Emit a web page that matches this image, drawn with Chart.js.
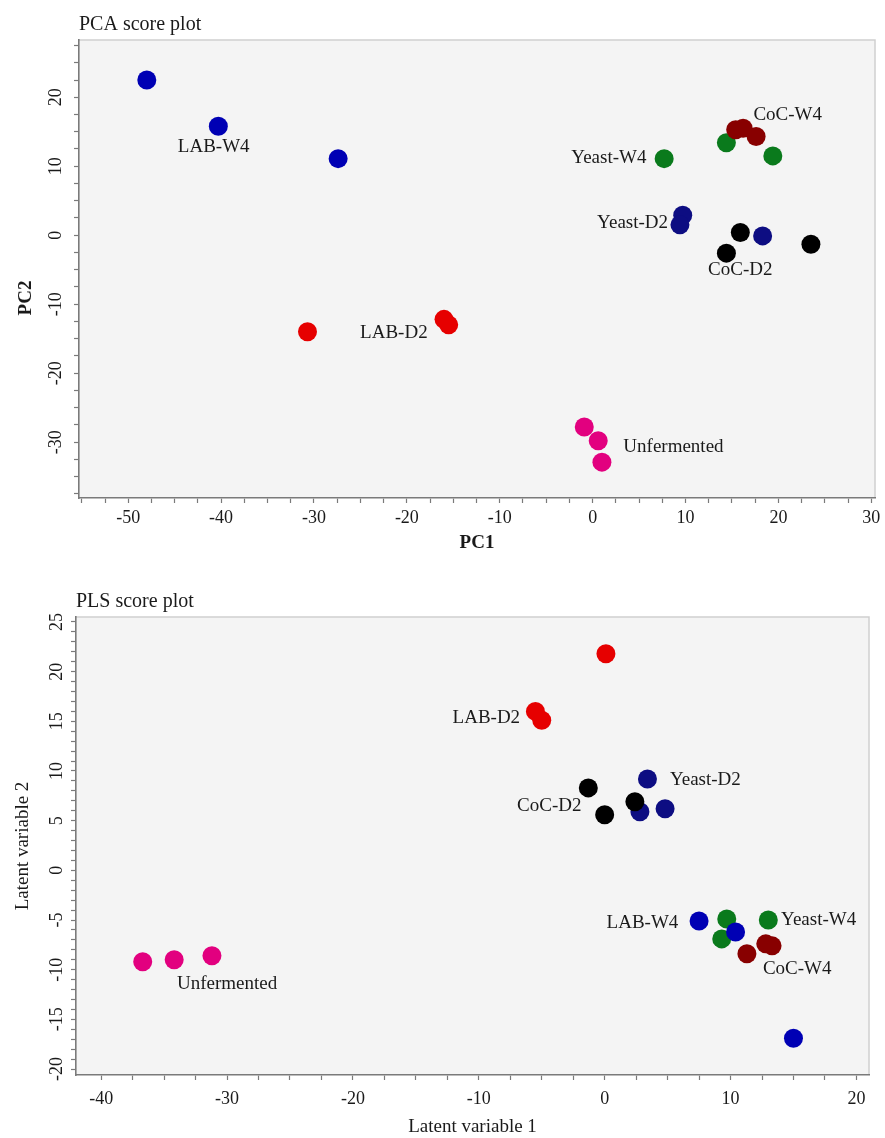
<!DOCTYPE html>
<html>
<head>
<meta charset="utf-8">
<script src="https://cdn.jsdelivr.net/npm/chart.js@4.4.1/dist/chart.umd.min.js"></script>
<style>
  html, body { margin: 0; padding: 0; background: #fff; }
  .wrap { position: absolute; left: 0; width: 885px; height: 560px; }
  #pca-wrap { top: 0; }
  #pls-wrap { top: 578px; }
</style>
</head>
<body>
<div class="wrap" id="pca-wrap"><canvas id="chart-pca" width="885" height="560"></canvas></div>
<div class="wrap" id="pls-wrap"><canvas id="chart-pls" width="885" height="560"></canvas></div>
<script>
// --- PCA scores [PC1, PC2] ---
const pcaLabW4       = [[-48.0, 22.5], [-40.3, 15.8], [-27.4, 11.1]];
const pcaLabD2       = [[-30.7, -14.0], [-16.0, -12.2], [-15.5, -13.0]];
const pcaUnfermented = [[-0.9, -27.8], [0.6, -29.8], [1.0, -32.9]];
const pcaCocW4       = [[15.4, 15.3], [16.2, 15.5], [17.6, 14.3]];
const pcaYeastW4     = [[7.7, 11.1], [14.4, 13.4], [19.4, 11.5]];
const pcaYeastD2     = [[9.7, 2.9], [9.4, 1.5], [18.3, -0.1]];
const pcaCocD2       = [[15.9, 0.4], [14.4, -2.6], [23.5, -1.3]];

// --- PLS scores [LV1, LV2] ---
const plsLabD2       = [[0.1, 21.8], [-5.5, 16.0], [-5.0, 15.1]];
const plsCocD2       = [[-1.3, 8.3], [0.0, 5.6], [2.4, 6.9]];
const plsYeastD2     = [[3.4, 9.2], [2.8, 5.9], [4.8, 6.2]];
const plsUnfermented = [[-36.7, -9.2], [-34.2, -9.0], [-31.2, -8.6]];
const plsCocW4       = [[11.3, -8.4], [12.8, -7.4], [13.3, -7.6]];
const plsLabW4       = [[7.5, -5.1], [10.4, -6.2], [15.0, -16.9]];
const plsYeastW4     = [[9.7, -4.9], [9.3, -6.9], [13.0, -5.0]];

// --- Axis ticks ---
const pcaXTicks = [-50, -40, -30, -20, -10, 0, 10, 20, 30];
const pcaYTicks = [-30, -20, -10, 0, 10, 20];
const plsXTicks = [-40, -30, -20, -10, 0, 10, 20];
const plsYTicks = [-20, -15, -10, -5, 0, 5, 10, 15, 20, 25];

// --- Group names written next to clusters [text, x, y] in data units ---
const pcaGroupLabels = [
  ['LAB-W4', -40.8, 12.75], ['Yeast-W4', 1.75, 11.15], ['CoC-W4', 21.0, 17.4],
  ['Yeast-D2', 4.3, 1.7], ['CoC-D2', 15.9, -5.1], ['LAB-D2', -21.4, -14.2],
  ['Unfermented', 8.7, -30.7]
];
const plsGroupLabels = [
  ['LAB-D2', -9.4, 15.35], ['CoC-D2', -4.4, 6.5], ['Yeast-D2', 8.0, 9.1],
  ['LAB-W4', 3.0, -5.35], ['Yeast-W4', 17.0, -5.05], ['CoC-W4', 15.3, -9.9],
  ['Unfermented', -30.0, -11.4]
];

// --- Colours ---
const COLORS = {
  labW4: '#0000b4',
  labD2: '#e60000',
  unfermented: '#e2007f',
  yeastW4: '#0a7a1c',
  cocW4: '#880000',
  yeastD2: '#0d0d82',
  cocD2: '#000000'
};

const SERIF = '"Liberation Serif", "DejaVu Serif", serif';
const AXIS_GREY = '#7a7a7a';

// --- Helpers ---
function toPoints(pairs) {
  return pairs.map(p => ({ x: p[0], y: p[1] }));
}

function dataset(pairs, color) {
  return {
    data: toPoints(pairs),
    backgroundColor: color,
    borderWidth: 0,
    pointRadius: 9.5,
    pointHoverRadius: 9.5
  };
}

// minor ticks between the labelled ones
function makeAxis(range, majors, minorStep, extra) {
  const axis = {
    type: 'linear',
    min: range[0],
    max: range[1],
    afterBuildTicks: scale => {
      const ticks = [];
      const start = Math.ceil(range[0] / minorStep) * minorStep;
      for (let v = start; v <= range[1] + 1e-9; v += minorStep) {
        ticks.push({ value: +v.toFixed(3) });
      }
      scale.ticks = ticks;
    },
    grid: {
      display: true,
      drawOnChartArea: false,
      drawTicks: true,
      tickLength: 5,
      tickColor: AXIS_GREY,
      tickWidth: 1.2
    },
    border: { display: true, color: AXIS_GREY, width: 1.6 },
    ticks: {
      autoSkip: false,
      color: '#1a1a1a',
      font: { family: SERIF, size: 18 },
      callback: v => (majors.includes(+(+v).toFixed(3)) ? String(v) : '')
    }
  };
  Object.assign(axis.ticks, extra.ticks || {});
  axis.title = extra.title || { display: false };
  axis.afterFit = extra.afterFit;
  return axis;
}

// plot background, light top/right frame, titles and group names
const framePlugin = {
  id: 'frame',
  beforeDraw(chart) {
    const { ctx, chartArea: a } = chart;
    ctx.save();
    ctx.fillStyle = '#f4f4f4';
    ctx.fillRect(a.left, a.top, a.right - a.left, a.bottom - a.top);
    ctx.strokeStyle = '#cfcfcf';
    ctx.lineWidth = 1.5;
    ctx.beginPath();
    ctx.moveTo(a.left, a.top);
    ctx.lineTo(a.right, a.top);
    ctx.lineTo(a.right, a.bottom);
    ctx.stroke();
    ctx.restore();
  },
  afterDatasetsDraw(chart, args, opts) {
    const { ctx, chartArea: a, scales } = chart;
    ctx.save();
    ctx.fillStyle = '#1a1a1a';
    ctx.textAlign = 'left';
    ctx.textBaseline = 'middle';
    ctx.font = '20px ' + SERIF;
    ctx.fillText(opts.title, a.left, a.top - 15);

    // rotated y title placed by hand (sits lower than the plot centre)
    if (opts.yTitle) {
      ctx.save();
      ctx.font = opts.yTitle.font;
      ctx.textAlign = 'center';
      ctx.translate(opts.yTitle.x, opts.yTitle.y);
      ctx.rotate(-Math.PI / 2);
      ctx.fillText(opts.yTitle.text, 0, 0);
      ctx.restore();
    }

    ctx.textAlign = 'center';
    ctx.font = '19px ' + SERIF;
    opts.labels.forEach(([text, x, y]) => {
      ctx.fillText(text, scales.x.getPixelForValue(x), scales.y.getPixelForValue(y));
    });
    ctx.restore();
  }
};

function buildChart(canvasId, datasets, cfg) {
  return new Chart(document.getElementById(canvasId).getContext('2d'), {
    type: 'scatter',
    data: { datasets },
    options: {
      responsive: false,
      animation: false,
      devicePixelRatio: 1,
      layout: { padding: cfg.padding },
      plugins: {
        legend: { display: false },
        tooltip: { enabled: false },
        frame: { title: cfg.title, labels: cfg.labels, yTitle: cfg.yTitle }
      },
      scales: { x: cfg.x, y: cfg.y }
    },
    plugins: [framePlugin]
  });
}

// --- PCA score plot ---
buildChart('chart-pca', [
  dataset(pcaLabW4, COLORS.labW4),
  dataset(pcaLabD2, COLORS.labD2),
  dataset(pcaUnfermented, COLORS.unfermented),
  dataset(pcaCocW4, COLORS.cocW4),
  dataset(pcaYeastW4, COLORS.yeastW4),
  dataset(pcaYeastD2, COLORS.yeastD2),
  dataset(pcaCocD2, COLORS.cocD2)
], {
  title: 'PCA score plot',
  labels: pcaGroupLabels,
  yTitle: { text: 'PC2', x: 26, y: 298, font: 'bold 19px ' + SERIF },
  padding: { top: 40, right: 10, left: 0, bottom: 0 },
  x: makeAxis([-55.3, 30.4], pcaXTicks, 2.5, {
    ticks: { padding: 4, maxRotation: 0 },
    title: { display: true, text: 'PC1', color: '#1a1a1a',
      font: { family: SERIF, size: 19, weight: 'bold', lineHeight: 1.1 }, padding: { top: 0, bottom: 6 } },
    afterFit: s => { s.height = 62; }
  }),
  y: makeAxis([-38.1, 28.3], pcaYTicks, 2.5, {
    ticks: { padding: 6, minRotation: 90, maxRotation: 90, crossAlign: 'center' },
    afterFit: s => { s.width = 79; }
  })
});

// --- PLS score plot ---
buildChart('chart-pls', [
  dataset(plsLabD2, COLORS.labD2),
  dataset(plsCocD2, COLORS.cocD2),
  dataset(plsYeastD2, COLORS.yeastD2),
  dataset(plsUnfermented, COLORS.unfermented),
  dataset(plsCocW4, COLORS.cocW4),
  dataset(plsLabW4, COLORS.labW4),
  dataset(plsYeastW4, COLORS.yeastW4)
], {
  title: 'PLS score plot',
  labels: plsGroupLabels,
  padding: { top: 39, right: 16, left: 0, bottom: 0 },
  x: makeAxis([-42.0, 21.0], plsXTicks, 2.5, {
    ticks: { padding: 8, maxRotation: 0 },
    title: { display: true, text: 'Latent variable 1', color: '#1a1a1a',
      font: { family: SERIF, size: 19, lineHeight: 1 }, padding: { top: 0, bottom: 1 } },
    afterFit: s => { s.height = 63; }
  }),
  y: makeAxis([-20.6, 25.5], plsYTicks, 1, {
    ticks: { padding: 2, minRotation: 90, maxRotation: 90, crossAlign: 'center' },
    title: { display: true, text: 'Latent variable 2', color: '#1a1a1a',
      font: { family: SERIF, size: 19, lineHeight: 1.1 }, padding: { top: 13, bottom: 0 } },
    afterFit: s => { s.width = 76; }
  })
});
</script>
</body>
</html>
